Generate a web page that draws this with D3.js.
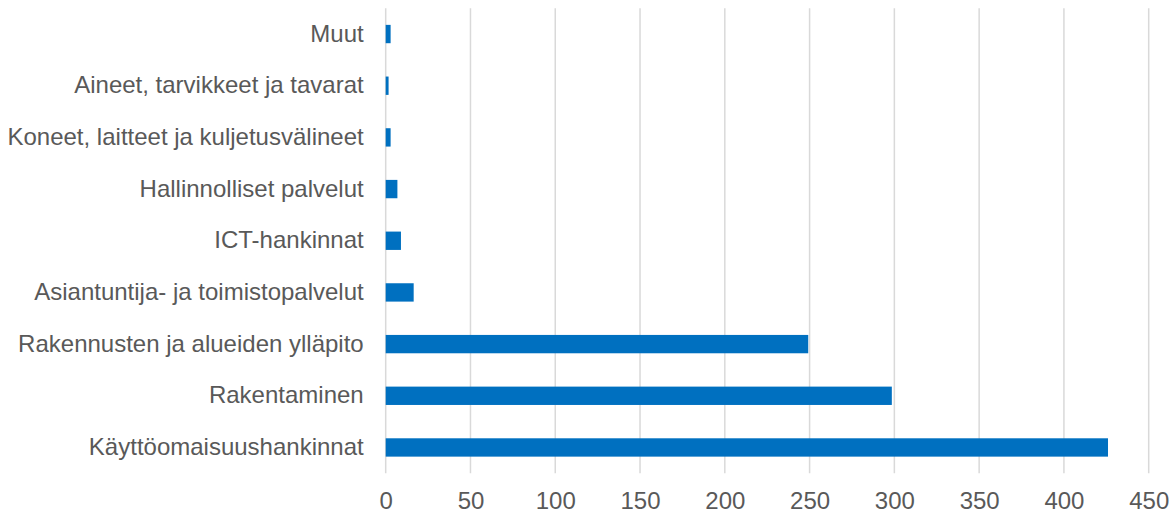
<!DOCTYPE html>
<html>
<head>
<meta charset="utf-8">
<script src="https://cdn.jsdelivr.net/npm/d3@7"></script>
<style>
  html, body { margin: 0; padding: 0; background: #ffffff; }
  svg { display: block; font-family: "Liberation Sans", Arial, sans-serif; }
</style>
</head>
<body>
<svg id="chart" width="1174" height="517"></svg>
<script>
// Hankinnat luokittain (bottom-to-top order as drawn)
const categories = [
  "Käyttöomaisuushankinnat",
  "Rakentaminen",
  "Rakennusten ja alueiden ylläpito",
  "Asiantuntija- ja toimistopalvelut",
  "ICT-hankinnat",
  "Hallinnolliset palvelut",
  "Koneet, laitteet ja kuljetusvälineet",
  "Aineet, tarvikkeet ja tavarat",
  "Muut"
];
const values = [426, 298.5, 249.2, 16.5, 9.0, 6.9, 2.9, 1.7, 2.9];
const xTicks = [0, 50, 100, 150, 200, 250, 300, 350, 400, 450];

const svg = d3.select("#chart");
const margin = { left: 385.7, right: 1174 - 1148.7, top: 8.2, bottom: 517 - 473.3 };
const width = 1174 - margin.left - margin.right;
const height = 517 - margin.top - margin.bottom;

const g = svg.append("g").attr("transform", `translate(${margin.left},${margin.top})`);

const x = d3.scaleLinear().domain([0, 450]).range([0, width]);
const y = d3.scaleBand()
  .domain(categories.slice().reverse())
  .range([0, height])
  .paddingInner(0.645)
  .paddingOuter(0.3225);

// vertical gridlines
g.append("g")
  .selectAll("line")
  .data(xTicks)
  .join("line")
  .attr("x1", d => x(d)).attr("x2", d => x(d))
  .attr("y1", 0).attr("y2", height)
  .attr("stroke", "#d9d9d9")
  .attr("stroke-width", 1.5);

// bars
g.append("g")
  .selectAll("rect")
  .data(categories.map((c, i) => ({ c, v: values[i] })))
  .join("rect")
  .attr("x", x(0))
  .attr("y", d => y(d.c))
  .attr("width", d => x(d.v) - x(0))
  .attr("height", y.bandwidth())
  .attr("fill", "#0070c0");

// x axis labels
const xAxis = g.append("g")
  .attr("transform", `translate(0,${height})`)
  .call(d3.axisBottom(x).tickValues(xTicks).tickSize(0).tickPadding(19));
xAxis.select(".domain").remove();
xAxis.selectAll("text")
  .attr("fill", "#595959")
  .style("font-size", "24px")
  .style("font-family", "Liberation Sans, Arial, sans-serif");

// category labels
const yAxis = g.append("g")
  .call(d3.axisLeft(y).tickSize(0).tickPadding(22));
yAxis.select(".domain").remove();
yAxis.selectAll("text")
  .attr("fill", "#595959")
  .style("font-size", "24px")
  .style("font-family", "Liberation Sans, Arial, sans-serif");
</script>
</body>
</html>
